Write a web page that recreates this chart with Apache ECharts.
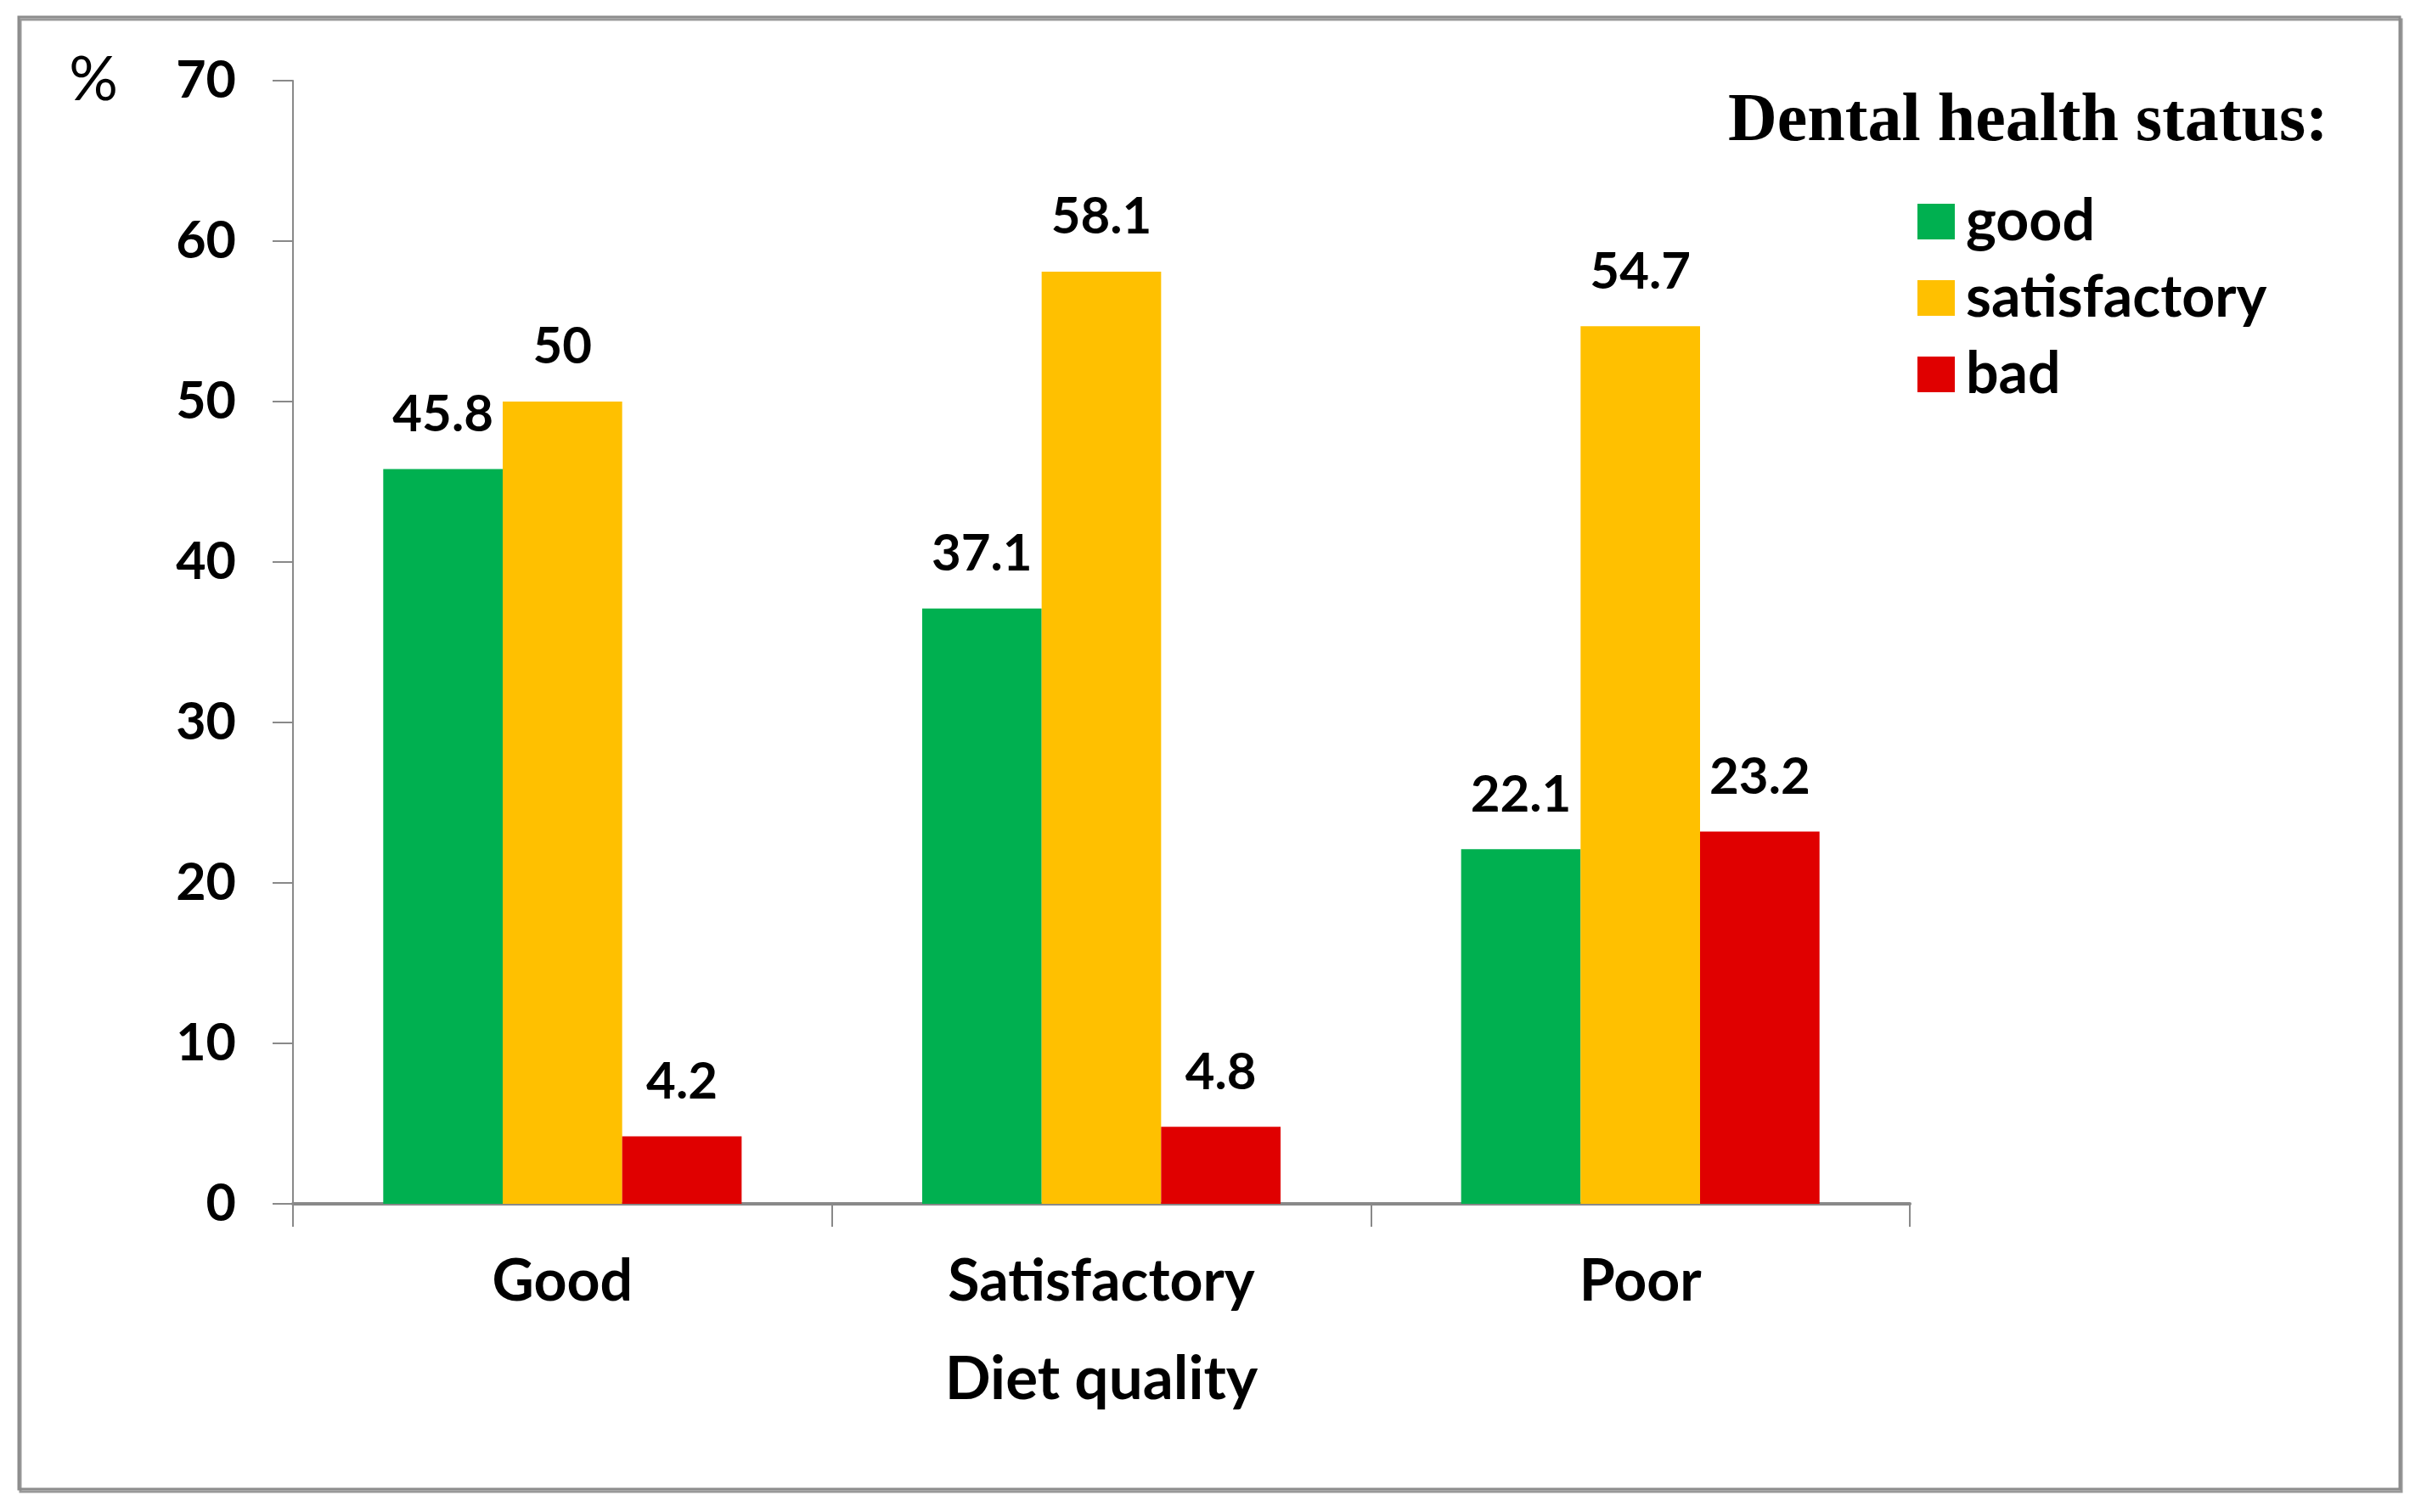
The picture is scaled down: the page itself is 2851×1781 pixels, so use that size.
<!DOCTYPE html>
<html>
<head>
<meta charset="utf-8">
<script src="https://cdn.jsdelivr.net/npm/echarts@6/dist/echarts.min.js"></script>
<style>
html,body{margin:0;padding:0;background:#fff;}
#chart{width:2851px;height:1781px;}
</style>
</head>
<body>
<div id="chart"></div>
<script>
const categories = ['Good', 'Satisfactory', 'Poor'];
const seriesNames = ['good', 'satisfactory', 'bad'];
const goodValues = [45.8, 37.1, 22.1];
const satisfactoryValues = [50, 58.1, 54.7];
const badValues = [4.2, 4.8, 23.2];
const yTicks = [0, 10, 20, 30, 40, 50, 60, 70];
const colors = ['#00B050', '#FFC000', '#E00000'];

const chart = echarts.init(document.getElementById('chart'));
const font = 'Lato';
const labelStyle = {
  show: true, position: 'top', distance: 34,
  fontFamily: font, fontWeight: 'bold', fontSize: 60, color: '#000'
};
const valueSets = [goodValues, satisfactoryValues, badValues];
chart.setOption({
  animation: false,
  backgroundColor: '#fff',
  color: colors,
  title: {
    text: 'Dental health status:',
    left: 2030, top: 99,
    textStyle: { fontFamily: 'Liberation Serif', fontWeight: 'bold', fontSize: 80, color: '#000' }
  },
  legend: {
    orient: 'vertical', left: 2253, top: 222,
    itemWidth: 44, itemHeight: 42, itemGap: 22,
    icon: 'rect',
    textStyle: { fontFamily: font, fontWeight: 'bold', fontSize: 68, color: '#000', padding: [0, 0, 0, 8] },
    data: seriesNames
  },
  grid: { left: 345, right: 602, top: 95, bottom: 363, containLabel: false },
  xAxis: {
    type: 'category', data: categories,
    name: 'Diet quality', nameLocation: 'middle', nameGap: 172,
    nameTextStyle: { fontFamily: font, fontWeight: 'bold', fontSize: 71, color: '#000' },
    axisLine: { lineStyle: { color: '#898989', width: 4 } },
    axisTick: { show: true, length: 27, inside: false, lineStyle: { color: '#898989', width: 2 } },
    axisLabel: { margin: 58, fontFamily: font, fontWeight: 'bold', fontSize: 68, color: '#000' }
  },
  yAxis: {
    type: 'value', min: 0, max: 70, interval: 10,
    name: '%', nameLocation: 'end', nameGap: 0,
    nameTextStyle: { fontFamily: font, fontSize: 72, color: '#000', align: 'center', padding: [0, 0, 22, -470], verticalAlign: 'middle' },
    axisLine: { show: true, lineStyle: { color: '#898989', width: 2 } },
    axisTick: { show: true, length: 24, lineStyle: { color: '#898989', width: 2 } },
    splitLine: { show: false },
    axisLabel: {
      margin: 67, fontFamily: font, fontWeight: 'bold', fontSize: 61, color: '#000',
      formatter: v => yTicks.includes(v) ? String(v) : ''
    }
  },
  series: seriesNames.map((n, i) => ({
    name: n, type: 'bar', data: valueSets[i],
    barGap: '0%', barCategoryGap: '33.5%',
    label: labelStyle,
    itemStyle: { color: colors[i] }
  })),
  graphic: [{
    type: 'rect', silent: true, z: -1,
    shape: { x: 22, y: 20, width: 2804, height: 1734 },
    style: { fill: 'none', stroke: '#8c8c8c', lineWidth: 3, shadowBlur: 0, shadowOffsetX: 2, shadowOffsetY: 3, shadowColor: '#999' }
  }]
});
</script>
</body>
</html>
